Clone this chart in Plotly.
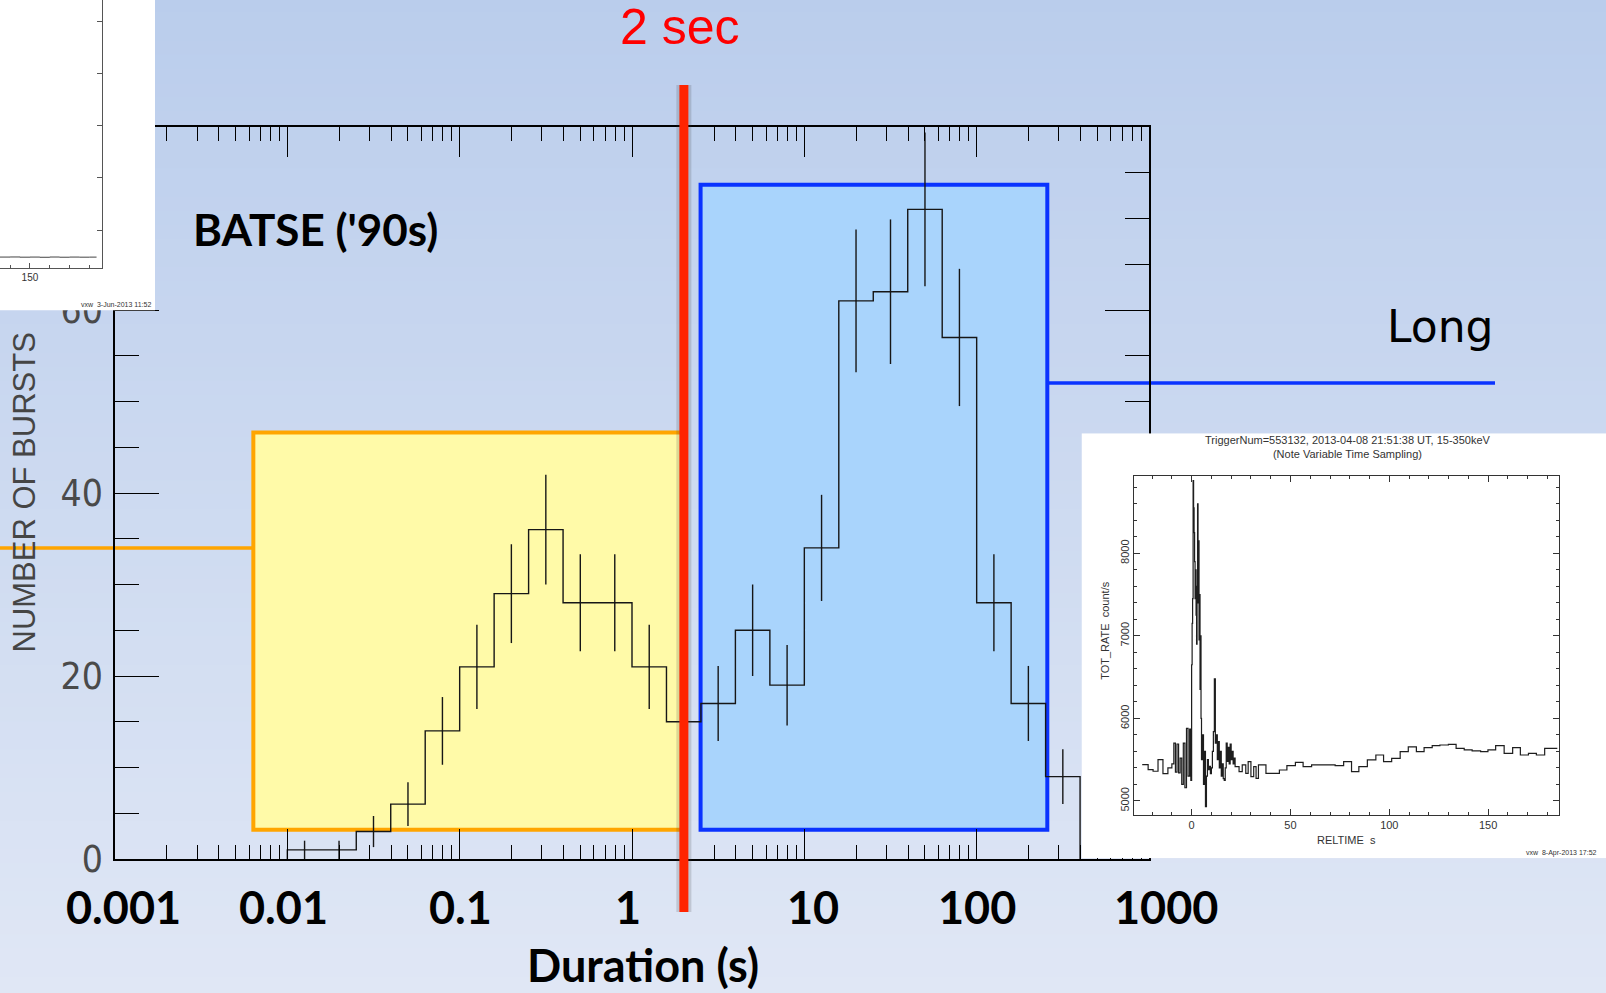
import plotly.graph_objects as go

W, H = 1606, 993

# ---------------- data ----------------
# BATSE duration distribution: log10 of bin left edges (s), counts and 1-sigma errors
log_edges = [-2.0, -1.8, -1.6, -1.4, -1.2, -1.0, -0.8, -0.6, -0.4, -0.2, 0.0, 0.2,
             0.4, 0.6, 0.8, 1.0, 1.2, 1.4, 1.6, 1.8, 2.0, 2.2, 2.4, 2.6]
counts = [1, 1, 3, 6, 14, 21, 29, 36, 28, 28, 21, 15, 17, 25, 19, 34, 61, 62, 71, 57, 28, 17, 9]
count_err = [1.0, 1.0, 1.7, 2.4, 3.7, 4.6, 5.4, 6.0, 5.3, 5.3, 4.6, 3.9, 4.1, 5.0, 4.4, 5.8,
             7.8, 7.9, 8.4, 7.5, 5.3, 4.1, 3.0]

x_tick_labels = ["0.001", "0.01", "0.1", "1", "10", "100", "1000"]
y_tick_vals = [0, 20, 40, 60, 80]
y_tick_text = ["0", "20", "40", "60", "80"]
split_seconds = 2.0

# Swift light curve (inset, right): bin start times (s) and total rate (count/s)
lc_time = ([-25.0, -22.0, -19.5, -17.0, -14.5, -12.0, -10.0, -9.0, -8.2, -7.4, -6.6, -5.8, -5.0,
            -4.2, -3.4, -2.6, -1.8, -1.0, -0.4]
           + [0.0, 0.25, 0.5, 0.75, 1.0, 1.25, 1.5, 1.75, 2.0, 2.25, 2.5, 2.75, 3.0, 3.25, 3.5,
              3.75, 4.0, 4.25, 4.5, 4.75]
           + [5.0, 5.5, 6.0, 6.5, 7.0, 7.5, 8.0, 8.5, 9.0, 9.5, 10.0, 10.5, 11.0, 11.5, 12.0, 12.5,
              13.0, 13.5, 14.0, 14.5, 15.0, 15.5, 16.0, 16.5, 17.0, 17.5, 18.0, 18.5, 19.0, 19.5,
              20.0, 20.5, 21.0, 21.5]
           + [22.0, 24.0, 25.6, 27.4, 28.6, 30.0, 31.4, 32.6, 33.8, 35.2, 37.6, 40.2, 44.4, 48.2,
              52.5, 56.4, 60.7, 72.6, 76.9, 80.9, 84.6, 88.9, 93.2, 97.1, 101.2, 105.5, 109.6,
              113.7, 117.6, 121.7, 125.6, 129.9, 133.8, 137.9, 141.9, 146.2, 149.9, 153.8, 158.1,
              162.4, 166.3, 170.4, 174.4, 178.6, 182.4, 185.0])
lc_rate = ([5440, 5380, 5360, 5500, 5330, 5400, 5450, 5700, 5350, 5690, 5340, 5520, 5200,
            5700, 5160, 5880, 5300, 5870, 5250]
           + [6650, 7150, 7450, 8880, 8550, 8250, 7900, 7450, 7800, 7250, 6900, 7600, 8600, 7400,
              8150, 6950, 7500, 6350, 7000, 6000]
           + [5500, 5800, 5200, 5600, 4930, 5300, 5500, 5380, 5420, 5330, 5400, 5600, 5840, 6480,
              5700, 5800, 5500, 5720, 5400, 5600, 5300, 5450, 5270, 5250, 5400, 5700, 5480, 5650,
              5450, 5690, 5500, 5600, 5450, 5520]
           + [5416, 5355, 5436, 5335, 5476, 5295, 5416, 5274, 5436, 5436, 5335, 5335, 5375, 5428,
              5468, 5416, 5436, 5428, 5476, 5355, 5416, 5497, 5557, 5476, 5517, 5597, 5654, 5597,
              5646, 5670, 5678, 5686, 5638, 5618, 5606, 5597, 5618, 5670, 5577, 5646, 5557, 5577,
              5557, 5638, 5638, 5638])

# cropped light curve (inset, top left)
tl_time = [134.9, 140.0, 145.0, 150.0, 155.0, 160.0, 165.0, 170.0, 175.0, 180.0, 183.6]
tl_rate = [4480, 4482, 4478, 4480, 4476, 4481, 4477, 4480, 4478, 4479, 4479]


# ---------------- helpers (pixel -> paper) ----------------
def px(x):
    return x / W


def py(y):
    return 1 - y / H


fig = go.Figure()

# ---- main histogram ----
edges = [10 ** e for e in log_edges]
step_x = [edges[0]] + edges
step_y = [0] + counts + [0]
centers = [(edges[i] * edges[i + 1]) ** 0.5 for i in range(len(counts))]

fig.add_trace(go.Scatter(x=step_x, y=step_y, mode="lines", line=dict(color="#161616", width=1.4, shape="hv"),
                         xaxis="x", yaxis="y", hoverinfo="skip"))
fig.add_trace(go.Scatter(x=centers, y=counts, mode="markers", marker=dict(size=1, color="#161616"),
                         error_y=dict(type="data", array=count_err, visible=True, width=0, thickness=1.4,
                                      color="#161616"),
                         xaxis="x", yaxis="y", hoverinfo="skip"))

# ---- right inset: white card + light curve ----
fig.add_trace(go.Scatter(x=[0, 1, 1, 0, 0], y=[0, 0, 1, 1, 0], mode="lines", fill="toself",
                         fillcolor="white", line=dict(width=0, color="white"),
                         xaxis="x2", yaxis="y2", hoverinfo="skip"))
fig.add_trace(go.Scatter(x=lc_time, y=lc_rate, mode="lines", line=dict(color="#1e1e1e", width=1.2, shape="hv"),
                         xaxis="x3", yaxis="y3", hoverinfo="skip"))

# ---- top-left inset: white card + cropped light curve ----
fig.add_trace(go.Scatter(x=[0, 1, 1, 0, 0], y=[0, 0, 1, 1, 0], mode="lines", fill="toself",
                         fillcolor="white", line=dict(width=0, color="white"),
                         xaxis="x4", yaxis="y4", hoverinfo="skip"))
fig.add_trace(go.Scatter(x=tl_time, y=tl_rate, mode="lines", line=dict(color="#444", width=1.0, shape="hv"),
                         xaxis="x5", yaxis="y5", hoverinfo="skip"))

# ---------------- shapes ----------------
shapes = []
# slide background gradient
top_rgb = (186, 205, 236)
bot_rgb = (224, 231, 245)
N = 70
for i in range(N):
    t = (i + 0.5) / N
    c = tuple(round(top_rgb[k] + (bot_rgb[k] - top_rgb[k]) * t) for k in range(3))
    shapes.append(dict(type="rect", xref="paper", yref="paper", x0=0, x1=1,
                       y0=1 - (i + 1) / N - 0.002, y1=1 - i / N + 0.002,
                       fillcolor="rgb(%d,%d,%d)" % c, line=dict(width=0), layer="below"))

# connector lines
shapes.append(dict(type="line", xref="paper", yref="paper", x0=0, x1=px(253), y0=py(548), y1=py(548),
                   line=dict(color="#FFA500", width=3.5), layer="below"))
shapes.append(dict(type="line", xref="paper", yref="paper", x0=px(1048), x1=px(1495), y0=py(383), y1=py(383),
                   line=dict(color="#0A33FF", width=3.5), layer="below"))
# short / long boxes
shapes.append(dict(type="rect", xref="x", yref="y", x0=0.00635, x1=split_seconds, y0=3.2, y1=46.6,
                   fillcolor="#FFFAA8", line=dict(color="#FFA500", width=4), layer="below"))
shapes.append(dict(type="rect", xref="x", yref="y", x0=2.5, x1=257, y0=3.2, y1=73.7,
                   fillcolor="#A9D4FC", line=dict(color="#0A33FF", width=4), layer="below"))
# 2 s dividing line with soft shadow
shapes.append(dict(type="line", xref="x", yref="paper", x0=split_seconds, x1=split_seconds,
                   y0=py(912), y1=py(85), line=dict(color="rgba(60,60,60,0.18)", width=15), layer="above"))
shapes.append(dict(type="line", xref="x", yref="paper", x0=split_seconds, x1=split_seconds,
                   y0=py(912), y1=py(85), line=dict(color="#FF2400", width=9), layer="above"))

# ---------------- annotations ----------------
ann = []
bold = dict(family="Lato, Carlito, Open Sans, sans-serif", size=45, color="black", weight="bold")
xlab_pos = [123.5, 283.5, 461, 628, 813, 976.5, 1166]
for lab, xp in zip(x_tick_labels, xlab_pos):
    ann.append(dict(text=lab, x=px(xp), y=py(907), xref="paper", yref="paper", showarrow=False,
                    xanchor="center", yanchor="middle", font=bold))
ann.append(dict(text="Duration (s)", x=px(643), y=py(965), xref="paper", yref="paper", showarrow=False,
                xanchor="center", yanchor="middle", font=dict(bold, size=45)))
ann.append(dict(text="BATSE ('90s)", x=px(315.5), y=py(228.5), xref="paper", yref="paper", showarrow=False,
                xanchor="center", yanchor="middle", font=dict(bold, size=44)))
ann.append(dict(text="2 sec", x=px(680), y=py(27), xref="paper", yref="paper", showarrow=False,
                xanchor="center", yanchor="middle",
                font=dict(family="Liberation Sans, Arial, sans-serif", size=50, color="#FF0000")))
ann.append(dict(text="Long", x=px(1440), y=py(326), xref="paper", yref="paper", showarrow=False,
                xanchor="center", yanchor="middle",
                font=dict(family="DejaVu Sans, sans-serif", size=44, color="black")))
ann.append(dict(text="NUMBER OF BURSTS", x=px(23.5), y=py(493), xref="paper", yref="paper", showarrow=False,
                xanchor="center", yanchor="middle", textangle=-90,
                font=dict(family="Liberation Sans, Arial, sans-serif", size=31, color="#454545")))
small = dict(family="Liberation Sans, Arial, sans-serif", size=11, color="#333")
ann.append(dict(text="TriggerNum=553132, 2013-04-08 21:51:38 UT, 15-350keV<br>(Note Variable Time Sampling)",
                x=px(1347.6), y=py(446.5), xref="paper", yref="paper", showarrow=False,
                xanchor="center", yanchor="middle", font=small))
ann.append(dict(text="RELTIME\u00a0\u00a0s", x=px(1346.6), y=py(839.5), xref="paper", yref="paper",
                showarrow=False, xanchor="center", yanchor="middle", font=small))
ann.append(dict(text="TOT_RATE\u00a0\u00a0count/s", x=px(1104.8), y=py(630), xref="paper", yref="paper",
                showarrow=False, xanchor="center", yanchor="middle", textangle=-90, font=small))
ann.append(dict(text="vxw\u00a0\u00a08-Apr-2013 17:52", x=px(1524), y=py(853), xref="paper", yref="paper",
                showarrow=False, xanchor="left", yanchor="middle", font=dict(small, size=7)))
ann.append(dict(text="vxw\u00a0\u00a03-Jun-2013 11:52", x=px(153), y=py(304), xref="paper", yref="paper",
                showarrow=False, xanchor="right", yanchor="middle", font=dict(small, size=7)))

# ---------------- layout ----------------
blk = "black"
fig.update_layout(
    width=W, height=H, margin=dict(l=0, r=0, t=0, b=0, autoexpand=False),
    paper_bgcolor="rgb(205,218,240)", plot_bgcolor="rgba(0,0,0,0)",
    showlegend=False, hovermode=False,
    shapes=shapes, annotations=ann,
    xaxis=dict(type="log", range=[-3, 3], domain=[px(115), px(1149)], anchor="y",
               showline=True, linecolor=blk, linewidth=1.5, mirror="allticks",
               ticks="inside", ticklen=30, tickwidth=1.2, tickcolor=blk, dtick=1, tick0=0,
               minor=dict(ticks="inside", ticklen=14, tickwidth=1.2, tickcolor=blk, dtick="D1", showgrid=False),
               showticklabels=False, showgrid=False, zeroline=False),
    yaxis=dict(range=[0, 80], domain=[py(859), py(127)], anchor="x",
               showline=True, linecolor=blk, linewidth=1.5, mirror="allticks",
               ticks="inside", ticklen=44, tickwidth=1.2, tickcolor=blk,
               tickvals=y_tick_vals, ticktext=y_tick_text, ticklabelstandoff=3,
               tickfont=dict(family="Liberation Sans Narrow, DejaVu Sans Condensed, Liberation Sans", size=37,
                             color="#4a4a4a"),
               minor=dict(ticks="inside", ticklen=24, tickwidth=1.2, tickcolor=blk, dtick=5, tick0=0,
                          showgrid=False),
               showgrid=False, zeroline=False),
    xaxis2=dict(range=[0, 1], domain=[px(1081.5), 1], anchor="y2", visible=False),
    yaxis2=dict(range=[0, 1], domain=[py(858.3), py(433.2)], anchor="x2", visible=False),
    xaxis3=dict(range=[-29, 186], domain=[px(1134.3), px(1559.3)], anchor="y3",
                showline=True, linecolor="#333", linewidth=1, mirror="allticks",
                ticks="inside", ticklen=6, tickwidth=1, tickcolor="#333", dtick=50, tick0=0,
                minor=dict(ticks="inside", ticklen=3, tickwidth=1, tickcolor="#333", dtick=10, showgrid=False),
                tickfont=small, showgrid=False, zeroline=False),
    yaxis3=dict(range=[4830, 8940], domain=[py(815), py(475.7)], anchor="x3",
                showline=True, linecolor="#333", linewidth=1, mirror="allticks",
                ticks="inside", ticklen=6, tickwidth=1, tickcolor="#333",
                tickvals=[5000, 6000, 7000, 8000], tickangle=-90,
                minor=dict(ticks="inside", ticklen=3, tickwidth=1, tickcolor="#333", dtick=200, tick0=0,
                           showgrid=False),
                tickfont=small, showgrid=False, zeroline=False),
    xaxis4=dict(range=[0, 1], domain=[0, px(155)], anchor="y4", visible=False),
    yaxis4=dict(range=[0, 1], domain=[py(310.5), 1], anchor="x4", visible=False),
    xaxis5=dict(range=[134.9, 186.2], domain=[0, px(101.7)], anchor="y5",
                showline=True, linecolor="#555", linewidth=1, mirror=False,
                ticks="inside", ticklen=5, tickwidth=1, tickcolor="#555", dtick=50, tick0=0,
                minor=dict(ticks="inside", ticklen=3, tickwidth=1, tickcolor="#555", dtick=10, showgrid=False),
                tickfont=dict(small, size=10), showgrid=False, zeroline=False),
    yaxis5=dict(range=[4270, 9420], domain=[py(268), 1], anchor="x5", side="right",
                showline=True, linecolor="#555", linewidth=1,
                ticks="inside", ticklen=5, tickwidth=1, tickcolor="#555", dtick=1000, tick0=0,
                showticklabels=False, showgrid=False, zeroline=False),
)

fig.write_html("out.html")
